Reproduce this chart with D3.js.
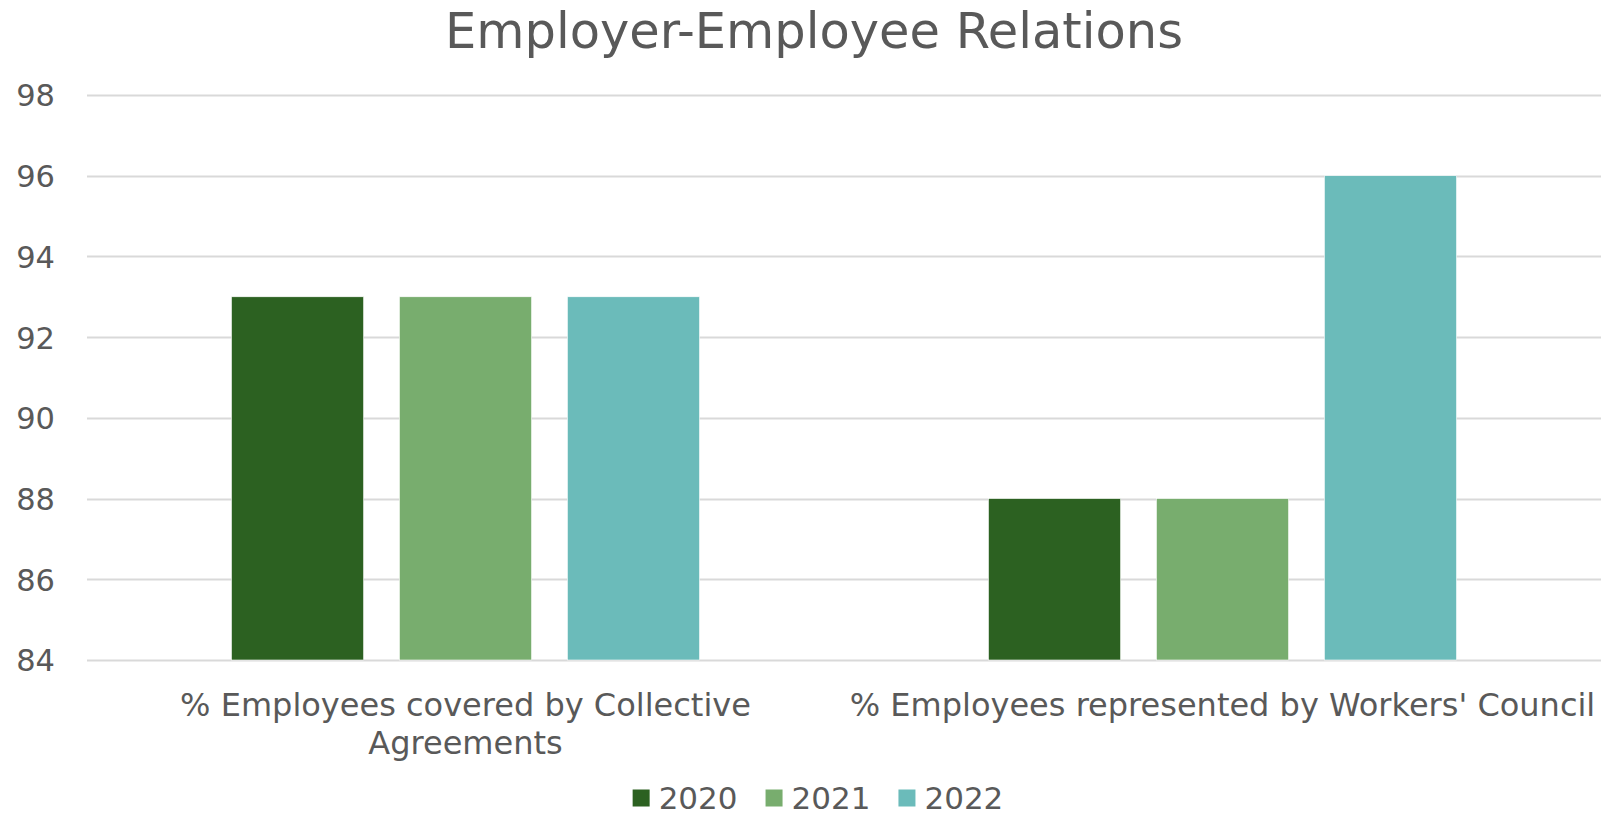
<!DOCTYPE html>
<html>
<head>
<meta charset="utf-8">
<script src="https://cdn.jsdelivr.net/npm/d3@7"></script>
<style>
  html, body { margin: 0; padding: 0; background: #fff; }
  svg { display: block; font-family: "DejaVu Sans", Verdana, sans-serif; }
</style>
</head>
<body>
<svg id="chart" width="1606" height="818"></svg>
<script>
// Chart data
const categories = [
  ["% Employees covered by Collective", "Agreements"],
  ["% Employees represented by Workers' Council"]
];
const years = ["2020", "2021", "2022"];
const values2020 = [93, 88];
const values2021 = [93, 88];
const values2022 = [93, 96];
const yTicks = [84, 86, 88, 90, 92, 94, 96, 98];
const colors = ["#2c6121", "#78ad6e", "#6bbbba"];

const series = [values2020, values2021, values2022];
const catKeys = categories.map((c, i) => "c" + i);

const svg = d3.select("#chart");
const W = 1606, H = 818;
const margin = { top: 95, right: 5, bottom: 158, left: 87 };
const plotBottom = H - margin.bottom;

const textColor = "#595959";

const x0 = d3.scaleBand().domain(catKeys).range([margin.left, W - margin.right]).padding(0);
const x1 = d3.scaleBand().domain(years).range([0, x0.bandwidth()])
  .paddingInner(0.213).paddingOuter(0.86);
const y = d3.scaleLinear().domain([84, 98]).range([plotBottom, margin.top]);

// Title
svg.append("text")
  .attr("x", W / 2 + 11).attr("y", 48)
  .attr("text-anchor", "middle")
  .attr("font-size", 49.5)
  .attr("fill", textColor)
  .text("Employer-Employee Relations");

// Gridlines
svg.append("g").selectAll("line").data(yTicks).join("line")
  .attr("x1", margin.left).attr("x2", W - margin.right)
  .attr("y1", d => Math.round(y(d)) + 0.5).attr("y2", d => Math.round(y(d)) + 0.5)
  .attr("stroke", "#d9d9d9").attr("stroke-width", 2);

// Y axis labels
const yAxis = d3.axisLeft(y).tickValues(yTicks).tickSize(0).tickPadding(0);
const yG = svg.append("g").attr("transform", `translate(${55},0)`).call(yAxis);
yG.select(".domain").remove();
yG.selectAll("text")
  .attr("font-size", 30.5)
  .attr("font-family", '"DejaVu Sans", Verdana, sans-serif')
  .attr("fill", textColor)
  .attr("dy", "0.36em");

// Bars
const groups = svg.append("g").selectAll("g").data(catKeys).join("g")
  .attr("transform", d => `translate(${x0(d)},0)`);
groups.selectAll("rect")
  .data((d, i) => years.map((yr, j) => ({ yr, v: series[j][i], j })))
  .join("rect")
  .attr("x", d => x1(d.yr))
  .attr("width", x1.bandwidth())
  .attr("y", d => y(d.v))
  .attr("height", d => plotBottom - y(d.v))
  .attr("fill", d => colors[d.j])
  .attr("stroke", "#ffffff").attr("stroke-width", 0.6);

// Category labels
const labG = svg.append("g");
categories.forEach((lines, i) => {
  const cx = x0(catKeys[i]) + x0.bandwidth() / 2;
  const t = labG.append("text")
    .attr("text-anchor", "middle")
    .attr("font-size", 32)
    .attr("fill", textColor);
  lines.forEach((ln, k) => {
    t.append("tspan").attr("x", cx).attr("y", 716 + k * 38).text(ln);
  });
});

// Legend
const legendItems = years.map((yr, j) => ({ yr, color: colors[j] }));
const legG = svg.append("g");
const sw = 17, gap = 9, itemGap = 28, fs = 31;
const widths = legendItems.map(d => {
  const t = legG.append("text").attr("font-size", fs).text(d.yr);
  const w = t.node().getComputedTextLength();
  t.remove();
  return w;
});
const total = d3.sum(widths) + legendItems.length * (sw + gap) + (legendItems.length - 1) * itemGap;
let lx = W / 2 + 15 - total / 2;
const ly = 798;
legendItems.forEach((d, j) => {
  legG.append("rect").attr("x", lx).attr("y", ly - sw / 2).attr("width", sw).attr("height", sw).attr("fill", d.color);
  legG.append("text").attr("x", lx + sw + gap).attr("y", ly).attr("dy", "0.36em")
    .attr("font-size", fs).attr("fill", textColor).text(d.yr);
  lx += sw + gap + widths[j] + itemGap;
});
</script>
</body>
</html>
